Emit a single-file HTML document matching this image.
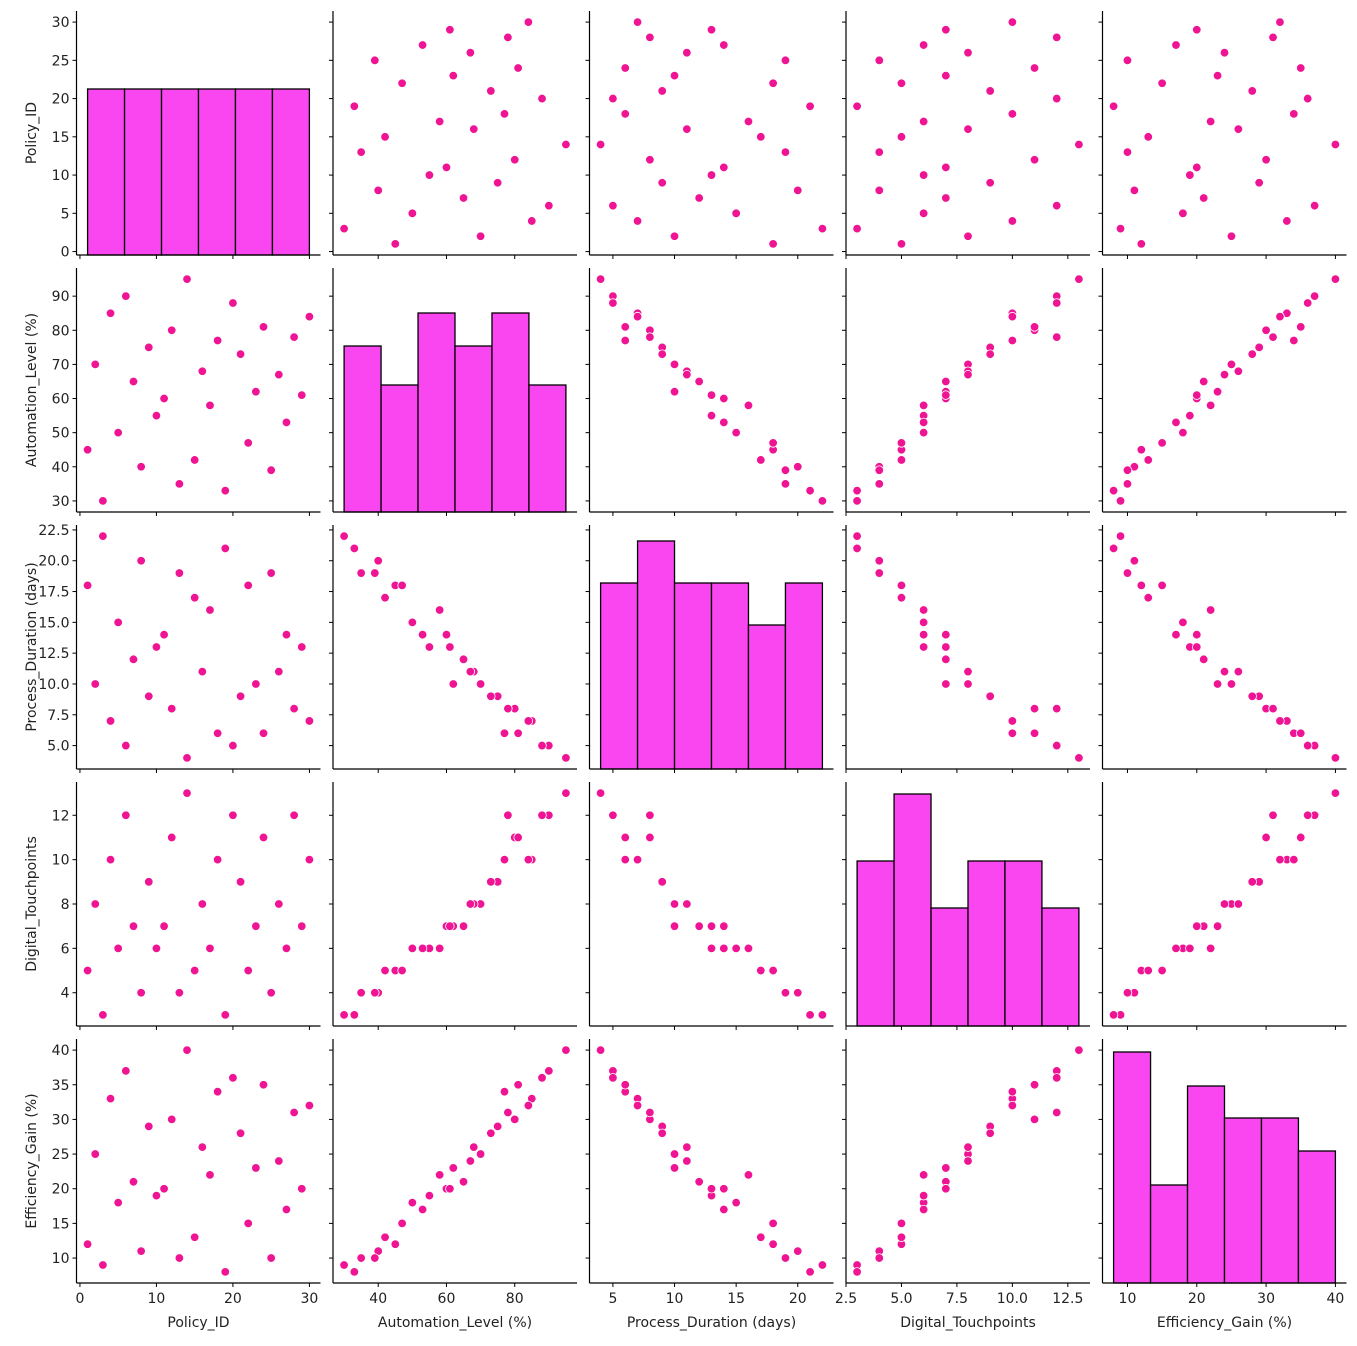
<!DOCTYPE html>
<html><head><meta charset="utf-8"><style>
html,body{margin:0;padding:0;background:#fff;}
svg text{font-family:"DejaVu Sans","Liberation Sans",sans-serif;font-size:14px;fill:#222;}
</style></head><body>
<svg id="s" width="1357" height="1341" xmlns="http://www.w3.org/2000/svg"></svg>
<script>
const NS="http://www.w3.org/2000/svg";
const s=document.getElementById('s');
function el(t,a,txt){const e=document.createElementNS(NS,t);for(const k in a)e.setAttribute(k,a[k]);if(txt!==undefined)e.textContent=txt;s.appendChild(e);return e;}
const A=[45,70,30,85,50,90,65,40,75,55,60,80,35,95,42,68,58,77,33,88,73,47,62,81,39,67,53,78,61,84];
const P=[18,10,22,7,15,5,12,20,9,13,14,8,19,4,17,11,16,6,21,5,9,18,10,6,19,11,14,8,13,7];
const D=[5,8,3,10,6,12,7,4,9,6,7,11,4,13,5,8,6,10,3,12,9,5,7,11,4,8,6,12,7,10];
const E=[12,25,9,33,18,37,21,11,29,19,20,30,10,40,13,26,22,34,8,36,28,15,23,35,10,24,17,31,20,32];
const I=[];for(let i=1;i<=30;i++)I.push(i);
const V=[I,A,P,D,E];
const names=["Policy_ID","Automation_Level (%)","Process_Duration (days)","Digital_Touchpoints","Efficiency_Gain (%)"];
const ticks=[[0,10,20,30],[40,60,80],[5,10,15,20],[2.5,5,7.5,10,12.5],[10,20,30,40]];
const yticks=[[0,5,10,15,20,25,30],[30,40,50,60,70,80,90],[5,7.5,10,12.5,15,17.5,20,22.5],[4,6,8,10,12],[10,15,20,25,30,35,40]];
const fmtY=[v=>v,v=>v,v=>v.toFixed(1),v=>v,v=>v];
const fmtX=[v=>v,v=>v,v=>v,v=>v.toFixed(1),v=>v];
const lefts=[76.5,333,589.5,846,1102.5], tops=[11,268,525,782,1039], W=244,H=244;
function rng(v){const mn=Math.min(...v),mx=Math.max(...v),p=(mx-mn)*0.05;return [mn-p,mx+p];}
const R=V.map(rng);
const hist=[[89,89,89,89,89,89],[346,385,313,346,313,385],[583,541,583,583,625,583],[861,794,908,861,861,908],[1052,1185,1086,1118,1118,1151]];
for(let r=0;r<5;r++)for(let c=0;c<5;c++){
  const x0=lefts[c],y0=tops[r];
  const fx=v=>x0+(v-R[c][0])/(R[c][1]-R[c][0])*W;
  const fy=v=>y0+H-(v-R[r][0])/(R[r][1]-R[r][0])*H;
  if(r===c){
    const mn=Math.min(...V[c]),mx=Math.max(...V[c]),bw=(mx-mn)/6;
    for(let b=0;b<6;b++){
      const xa=fx(mn+b*bw),xb=fx(mn+(b+1)*bw),t=hist[r][b];
      el('rect',{x:xa,y:t,width:xb-xa,height:y0+H-t,fill:'#f946f0',stroke:'#000','stroke-width':1.3});
    }
  } else {
    for(let i=0;i<30;i++)el('circle',{cx:fx(V[c][i]),cy:fy(V[r][i]),r:4.3,fill:'#ee1493',stroke:'#fff','stroke-width':0.8});
  }
  el('line',{x1:x0,y1:y0,x2:x0,y2:y0+H,stroke:'#000','stroke-width':1.2});
  el('line',{x1:x0,y1:y0+H,x2:x0+W,y2:y0+H,stroke:'#000','stroke-width':1.2});
  ticks[c].forEach(v=>{const x=fx(v);el('line',{x1:x,y1:y0+H,x2:x,y2:y0+H+4,stroke:'#000','stroke-width':1});
    if(r===4)el('text',{x:x,y:y0+H+20,'text-anchor':'middle'},fmtX[c](v));});
  yticks[r].forEach(v=>{const y=fy(v);el('line',{x1:x0-4,y1:y,x2:x0,y2:y,stroke:'#000','stroke-width':1});
    if(c===0)el('text',{x:x0-7,y:y+5,'text-anchor':'end'},fmtY[r](v));});
  if(r===4)el('text',{x:x0+W/2,y:1327,'text-anchor':'middle'},names[c]);
  if(c===0){const cy=y0+H/2;el('text',{x:0,y:0,'text-anchor':'middle',transform:`translate(36,${cy}) rotate(-90)`},names[r]);}
}
</script>
</body></html>
